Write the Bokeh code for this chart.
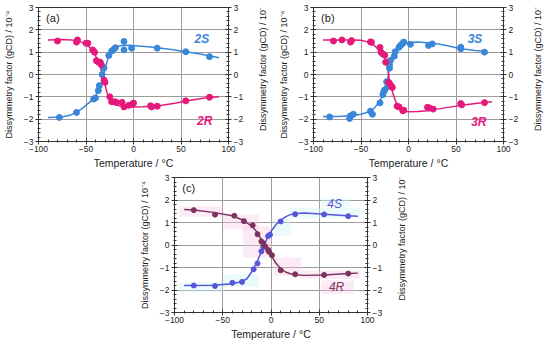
import math
from bokeh.plotting import figure
from bokeh.models import (Range1d, LinearAxis, SingleIntervalTicker, Label, Spacer)
from bokeh.core.properties import value
from bokeh.layouts import column, row
from bokeh.embed import file_html
from bokeh.resources import INLINE

# ---------------- data ----------------
# panel (a)
a_S_x = [-78, -60, -42, -40, -37, -36, -33, -31, -26, -23, -21, -19, -10, -10, -2, 25, 55, 80]
a_S_y = [-1.92, -1.70, -1.10, -1.05, -0.72, -0.50, 0.0, 0.30, 0.85, 1.05, 1.12, 1.20, 1.48, 1.10, 1.18, 1.18, 1.02, 0.80]
a_R_x = [-80, -60, -59, -50, -48, -43, -41, -39, -37, -35, -34, -31, -30, -25, -23, -20, -18, -12, -10, -5, -2, 0, 18, 19, 25, 55, 80]
a_R_y = [1.50, 1.45, 1.55, 1.40, 1.40, 1.10, 1.00, 0.62, 0.55, 0.55, 0.45, -0.25, -0.35, -1.0, -1.22, -1.22, -1.25, -1.25, -1.45, -1.38, -1.35, -1.28, -1.40, -1.45, -1.42, -1.18, -1.02]
a_S_fit_x = [-90, -75, -65, -55, -45, -40, -36, -33, -31, -29, -27, -25, -22, -18, -12, -5, 5, 15, 25, 40, 55, 70, 90]
a_S_fit_y = [-1.92, -1.9, -1.8, -1.55, -1.2, -0.95, -0.6, -0.25, 0.05, 0.4, 0.7, 0.9, 1.12, 1.25, 1.3, 1.31, 1.28, 1.24, 1.2, 1.12, 1.02, 0.92, 0.75]
a_R_fit_x = [-90, -75, -65, -55, -48, -43, -40, -37, -34, -32, -30, -28, -26, -23, -20, -15, -10, 0, 10, 20, 30, 45, 60, 75, 90]
a_R_fit_y = [1.55, 1.57, 1.55, 1.45, 1.3, 1.08, 0.85, 0.55, 0.2, -0.1, -0.45, -0.8, -1.05, -1.25, -1.33, -1.4, -1.44, -1.45, -1.44, -1.42, -1.38, -1.28, -1.15, -1.05, -1.0]

# panel (b)
b_S_x = [-83, -62, -61, -58, -40, -38, -30, -27, -26, -25, -23, -22, -20, -20, -19, -15, -14, -10, -8, -6, -5, 2, 21, 25, 55, 55, 80]
b_S_y = [-1.90, -1.97, -1.85, -1.78, -1.64, -1.78, -1.27, -0.90, -0.76, -0.69, -0.32, -0.55, 0.28, 0.42, 0.63, 0.82, 1.02, 1.22, 1.32, 1.40, 1.45, 1.35, 1.30, 1.37, 1.15, 1.22, 1.00]
b_R_x = [-79, -70, -61, -60, -40, -39, -30, -29, -27, -25, -24, -21, -20, -18, -17, -12, -10, -6, -5, 20, 22, 26, 55, 56, 80]
b_R_y = [1.50, 1.55, 1.45, 1.52, 1.46, 1.44, 1.21, 1.0, 0.92, 0.86, 0.55, -0.35, -0.40, -0.52, -0.58, -1.42, -1.45, -1.62, -1.60, -1.47, -1.50, -1.55, -1.30, -1.36, -1.26]
b_S_fit_x = [-90, -75, -60, -50, -42, -36, -31, -28, -25, -23, -21.5, -20.5, -19, -17, -14, -10, -5, 0, 10, 20, 30, 40, 55, 70, 80]
b_S_fit_y = [-1.88, -1.88, -1.85, -1.78, -1.68, -1.5, -1.25, -1.0, -0.7, -0.4, -0.1, 0.3, 0.6, 0.85, 1.05, 1.25, 1.38, 1.43, 1.45, 1.42, 1.38, 1.3, 1.15, 1.08, 1.05]
b_R_fit_x = [-90, -75, -60, -50, -42, -36, -31, -28, -25, -23, -21.5, -20.5, -19.5, -18, -16, -14, -12, -9, -5, 0, 10, 20, 30, 45, 60, 75, 88]
b_R_fit_y = [1.55, 1.55, 1.55, 1.53, 1.45, 1.3, 1.1, 0.95, 0.8, 0.55, 0.2, -0.15, -0.4, -0.6, -0.9, -1.15, -1.35, -1.55, -1.65, -1.67, -1.66, -1.62, -1.55, -1.45, -1.35, -1.28, -1.22]

# panel (c)
c_S_x = [-80, -58, -40, -30, -18, -14, -10, -8, -3, -1, 10, 25, 55, 80]
c_S_y = [-1.80, -1.82, -1.68, -1.64, -1.08, -0.82, -0.28, -0.08, 0.40, 0.46, 1.05, 1.37, 1.36, 1.28]
c_R_x = [-80, -58, -38, -28, -19, -14, -10, -8, -6, -3, -2, 1, 10, 25, 55, 80]
c_R_y = [1.55, 1.35, 1.30, 1.06, 0.88, 0.48, 0.16, 0.08, -0.06, -0.22, -0.30, -0.45, -1.12, -1.30, -1.33, -1.27]
c_S_fit_x = [-90, -80, -60, -40, -30, -25, -20, -15, -10, -7, -4, 0, 5, 10, 15, 20, 25, 35, 55, 80, 90]
c_S_fit_y = [-1.8, -1.8, -1.79, -1.72, -1.62, -1.5, -1.2, -0.8, -0.3, 0.0, 0.3, 0.6, 0.9, 1.1, 1.25, 1.35, 1.4, 1.42, 1.37, 1.3, 1.28]
c_R_fit_x = [-90, -80, -60, -40, -30, -20, -15, -10, -7, -4, 0, 5, 10, 15, 20, 25, 35, 55, 80, 90]
c_R_fit_y = [1.58, 1.56, 1.45, 1.3, 1.12, 0.85, 0.6, 0.25, 0.08, -0.15, -0.45, -0.8, -1.05, -1.2, -1.28, -1.32, -1.35, -1.33, -1.27, -1.25]

# highlighter boxes in panel (c): left, right, bottom, top
c_pink_l = [-95, -50, -29, 2.7, 31.5, 52]
c_pink_r = [-50, -12.5, 1, 31.5, 92.5, 86]
c_pink_b = [1.27, 0.69, -0.56, -1.36, -1.5, -2.17]
c_pink_t = [1.71, 1.35, 0.83, -0.56, -1.14, -1.58]
c_cyan_l = [-95, -50, 3, 20, 52]
c_cyan_r = [-50, -12.5, 21, 92, 82]
c_cyan_b = [-2.09, -1.87, 0.4, 1.2, 1.71]
c_cyan_t = [-1.65, -1.29, 1.13, 1.64, 2.08]

panel_tags = ["(a)", "(b)", "(c)"]
series_names = ["2S", "2R", "3S", "3R", "4S", "4R"]

X_LABEL = "Temperature / °C"
Y_LABEL = "Dissymmetry factor (gCD) / 10⁻⁴"

RED = "#e5197a"
BLUE = "#3a87d9"
C_BLUE = "#5656d9"
C_RED = "#7c3360"
FONT = "Liberation Sans"


def make_fig(w, h, bl, br, bt, bb):
    p = figure(width=w, height=h, output_backend="svg", toolbar_location=None,
               x_range=Range1d(-100, 100), y_range=Range1d(-3, 3),
               min_border_left=bl, min_border_right=br, min_border_top=bt, min_border_bottom=bb)
    right = LinearAxis()
    p.add_layout(right, "right")
    p.xaxis.axis_label = X_LABEL
    p.yaxis[0].axis_label = Y_LABEL
    p.xaxis.ticker = SingleIntervalTicker(interval=50, num_minor_ticks=5)
    p.yaxis.ticker = SingleIntervalTicker(interval=1, num_minor_ticks=5)
    for ax in p.axis:
        ax.major_label_text_font = FONT
        ax.major_label_text_font_size = "8.5px"
        ax.major_label_text_color = "#222222"
        ax.axis_label_text_font = FONT
        ax.axis_label_text_font_style = "normal"
        ax.axis_label_text_color = "#222222"
        ax.axis_line_color = "#333333"
        ax.major_tick_line_color = "#333333"
        ax.minor_tick_line_color = "#333333"
        ax.major_tick_in = 3
        ax.major_tick_out = 3
        ax.minor_tick_in = 2
        ax.minor_tick_out = 1
        ax.major_label_standoff = 2
        ax.axis_label_standoff = 7
    p.xaxis.axis_label_text_font_size = "10.5px"
    p.xaxis.major_label_standoff = 1
    p.xaxis.axis_label_standoff = 2
    p.yaxis.axis_label_text_font_size = "9px"
    p.grid.grid_line_color = "#9c9c9c"
    p.grid.grid_line_width = 1
    p.xgrid.ticker = SingleIntervalTicker(interval=50)
    p.ygrid.ticker = SingleIntervalTicker(interval=1)
    p.outline_line_color = "#333333"
    p.background_fill_color = "white"
    p.border_fill_color = "white"
    return p


def right_title(w, h, xpos, ypos):
    # narrow strip holding the right-hand axis title, reading bottom-to-top
    f = figure(width=w, height=h, output_backend="svg", toolbar_location=None,
               x_range=Range1d(0, 1), y_range=Range1d(0, 1),
               x_axis_type=None, y_axis_type=None,
               min_border_left=0, min_border_right=0, min_border_top=0, min_border_bottom=0)
    f.outline_line_color = None
    f.grid.visible = False
    f.text(x=[xpos], y=[ypos], text=[Y_LABEL], angle=math.pi / 2,
           text_font=value(FONT), text_font_size="9px", text_color="#222222",
           text_align="center", text_baseline="middle")
    return f


def tag(p, txt):
    p.add_layout(Label(x=-92, y=2.55, text=txt, text_font=FONT, text_font_size="11px",
                       text_baseline="middle", text_color="#222222"))


def name(p, txt, x, y, color, bold=True):
    p.add_layout(Label(x=x, y=y, text=txt, text_font=FONT, text_font_size="12px",
                       text_font_style="bold italic" if bold else "italic",
                       text_baseline="middle", text_align="center", text_color=color))


# (a)
pa = make_fig(255, 171, 33, 27, 7, 27)
pa.line(a_S_fit_x, a_S_fit_y, color=BLUE, line_width=1.5)
pa.line(a_R_fit_x, a_R_fit_y, color=RED, line_width=1.5)
pa.scatter(a_S_x, a_S_y, size=6, color=BLUE)
pa.scatter(a_R_x, a_R_y, size=6, color=RED)
tag(pa, panel_tags[0])
name(pa, series_names[0], 72, 1.57, BLUE)
name(pa, series_names[1], 75, -2.07, RED)
ta = right_title(20, 171, 0.38, 0.556)

# (b)
pb = make_fig(255, 171, 33, 27, 7, 27)
pb.line(b_S_fit_x, b_S_fit_y, color=BLUE, line_width=1.5)
pb.line(b_R_fit_x, b_R_fit_y, color=RED, line_width=1.5)
pb.scatter(b_S_x, b_S_y, size=6, color=BLUE)
pb.scatter(b_R_x, b_R_y, size=6, color=RED)
tag(pb, panel_tags[1])
name(pb, series_names[2], 70, 1.6, BLUE)
name(pb, series_names[3], 74, -2.12, RED)
tb = right_title(20, 171, 0.38, 0.556)

# (c)
pc = make_fig(258, 171, 33, 27, 6, 28)
pc.quad(left=c_pink_l, right=c_pink_r, bottom=c_pink_b, top=c_pink_t,
        fill_color="#f7c4e0", fill_alpha=0.35, line_color=None)
pc.quad(left=c_cyan_l, right=c_cyan_r, bottom=c_cyan_b, top=c_cyan_t,
        fill_color="#cdf3f3", fill_alpha=0.4, line_color=None)
pc.line(c_S_fit_x, c_S_fit_y, color=C_BLUE, line_width=1.5)
pc.line(c_R_fit_x, c_R_fit_y, color=C_RED, line_width=1.5)
pc.scatter(c_S_x, c_S_y, size=5, color=C_BLUE)
pc.scatter(c_R_x, c_R_y, size=5, color=C_RED)
tag(pc, panel_tags[2])
name(pc, series_names[4], 66, 1.83, C_BLUE, bold=False)
name(pc, series_names[5], 68, -1.87, C_RED, bold=False)
tc = right_title(20, 171, 0.38, 0.562)

layout = column(row(pa, ta, pb, tb),
                row(Spacer(width=136, height=171), pc, tc))

with open("out.html", "w") as f:
    f.write(file_html(layout, INLINE))
